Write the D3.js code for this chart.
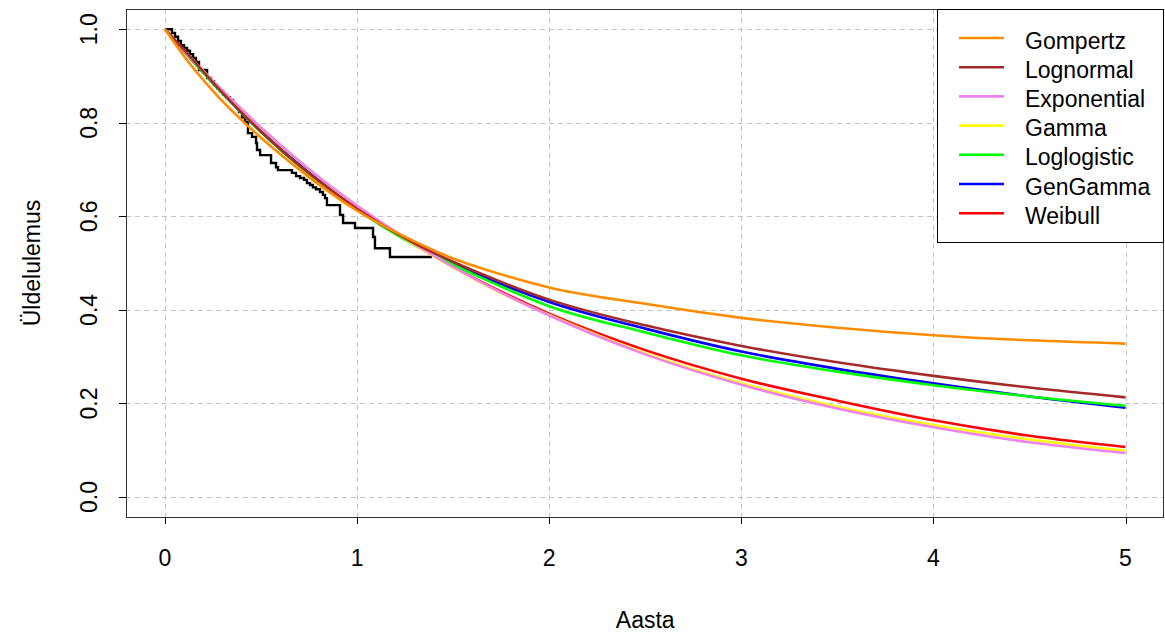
<!DOCTYPE html>
<html>
<head>
<meta charset="utf-8">
<script src="https://cdn.jsdelivr.net/npm/d3@7"></script>
<style>
  body { margin: 0; background: #fff; }
  svg text { font-family: "Liberation Sans", Arial, sans-serif; fill: #000; }
</style>
</head>
<body>
<svg id="chart"></svg>
<script>
// time grid used for the fitted survival curves (years)
const times = [0, 0.1, 0.25, 0.5, 0.75, 1, 1.25, 1.5, 1.75, 2, 2.5, 3, 3.5, 4, 4.5, 5];

// fitted survival values
const gompertz    = [1, 0.942, 0.868, 0.768, 0.684, 0.612, 0.556, 0.510, 0.476, 0.448, 0.413, 0.383, 0.362, 0.346, 0.335, 0.328];
const lognormal   = [1, 0.956, 0.886, 0.781, 0.692, 0.616, 0.553, 0.503, 0.460, 0.422, 0.367, 0.323, 0.288, 0.259, 0.234, 0.213];
const exponential = [1, 0.954, 0.889, 0.790, 0.701, 0.623, 0.554, 0.492, 0.437, 0.388, 0.305, 0.240, 0.189, 0.149, 0.117, 0.094];
const gamma       = [1, 0.955, 0.889, 0.789, 0.700, 0.621, 0.552, 0.491, 0.436, 0.389, 0.307, 0.243, 0.193, 0.154, 0.123, 0.099];
const loglogistic = [1, 0.953, 0.884, 0.780, 0.690, 0.614, 0.550, 0.497, 0.450, 0.408, 0.352, 0.303, 0.268, 0.239, 0.215, 0.195];
const gengamma    = [1, 0.954, 0.885, 0.783, 0.694, 0.618, 0.553, 0.500, 0.455, 0.417, 0.360, 0.311, 0.274, 0.243, 0.215, 0.191];
const weibull     = [1, 0.952, 0.886, 0.786, 0.698, 0.620, 0.552, 0.492, 0.439, 0.392, 0.314, 0.253, 0.206, 0.164, 0.131, 0.107];

// Kaplan-Meier steps (time of drop, survival after drop)
const kmTimes = [0, 0.036, 0.052, 0.068, 0.083, 0.099, 0.115, 0.130, 0.146, 0.161, 0.177, 0.219, 0.239, 0.255, 0.271, 0.286,
  0.302, 0.318, 0.338, 0.354, 0.370, 0.385, 0.401, 0.416, 0.432, 0.453, 0.474, 0.479, 0.495, 0.552, 0.578, 0.588,
  0.661, 0.682, 0.703, 0.724, 0.739, 0.755, 0.770, 0.786, 0.807, 0.822, 0.833, 0.843, 0.911, 0.927, 0.989, 1.083,
  1.093, 1.171, 1.390];
const kmSurv = [1, 0.992, 0.984, 0.975, 0.966, 0.960, 0.954, 0.947, 0.939, 0.930, 0.913, 0.896, 0.889, 0.881, 0.874, 0.868,
  0.861, 0.855, 0.849, 0.840, 0.832, 0.823, 0.812, 0.802, 0.778, 0.770, 0.757, 0.742, 0.731, 0.714, 0.705, 0.699,
  0.693, 0.686, 0.682, 0.678, 0.671, 0.667, 0.662, 0.658, 0.652, 0.646, 0.639, 0.624, 0.603, 0.586, 0.575, 0.556,
  0.532, 0.513, 0.513];

const models = [
  { name: "Gompertz",    colour: "#ff8c00", values: gompertz },
  { name: "Lognormal",   colour: "#a52a2a", values: lognormal },
  { name: "Exponential", colour: "#ee82ee", values: exponential },
  { name: "Gamma",       colour: "#ffff00", values: gamma },
  { name: "Loglogistic", colour: "#00ff00", values: loglogistic },
  { name: "GenGamma",    colour: "#0000ff", values: gengamma },
  { name: "Weibull",     colour: "#ff0000", values: weibull }
];

const xTicks = [0, 1, 2, 3, 4, 5];
const yTicks = [0, 0.2, 0.4, 0.6, 0.8, 1.0];

var width = 1165, height = 635;
var box = { left: 126, right: 1163, top: 9, bottom: 517 };

var svg = d3.select("#chart").attr("width", width).attr("height", height);

var x = d3.scaleLinear().domain([0, 5]).range([165, 1125.5]);
var y = d3.scaleLinear().domain([0, 1]).range([497, 29.3]);

// grid
var grid = svg.append("g")
  .attr("stroke", "#c4c4c4")
  .attr("stroke-width", 1)
  .attr("stroke-dasharray", "5,4");
grid.selectAll("line.v").data(xTicks).enter().append("line")
  .attr("x1", d => Math.round(x(d)) + 0.5).attr("x2", d => Math.round(x(d)) + 0.5)
  .attr("y1", box.top).attr("y2", box.bottom);
grid.selectAll("line.h").data(yTicks).enter().append("line")
  .attr("y1", d => Math.round(y(d)) + 0.5).attr("y2", d => Math.round(y(d)) + 0.5)
  .attr("x1", box.left).attr("x2", box.right);

var plot = svg.append("g");

// Kaplan-Meier curve first, fitted curves on top
var km = kmTimes.map((t, i) => [t, kmSurv[i]]);
plot.append("path")
  .datum(km)
  .attr("fill", "none")
  .attr("stroke", "#000")
  .attr("stroke-width", 2.4)
  .attr("d", d3.line().x(d => x(d[0])).y(d => y(d[1])).curve(d3.curveStepAfter));

var line = d3.line()
  .x(d => x(d[0]))
  .y(d => y(d[1]))
  .curve(d3.curveMonotoneX);

// drawn in reverse legend order
models.slice().reverse().forEach(function(m) {
  plot.append("path")
    .datum(times.map((t, i) => [t, m.values[i]]))
    .attr("fill", "none")
    .attr("stroke", m.colour)
    .attr("stroke-width", 2.6)
    .attr("d", line);
});

// box
svg.append("rect")
  .attr("x", box.left + 0.5).attr("y", box.top + 0.5)
  .attr("width", box.right - box.left).attr("height", box.bottom - box.top)
  .attr("fill", "none").attr("stroke", "#333").attr("stroke-width", 1);

// x axis
var xAxis = svg.append("g");
xAxis.selectAll("line").data(xTicks).enter().append("line")
  .attr("x1", d => Math.round(x(d)) + 0.5).attr("x2", d => Math.round(x(d)) + 0.5)
  .attr("y1", box.bottom).attr("y2", box.bottom + 7)
  .attr("stroke", "#000");
xAxis.selectAll("text").data(xTicks).enter().append("text")
  .attr("x", d => x(d)).attr("y", 566)
  .attr("text-anchor", "middle")
  .style("font-size", "23px")
  .text(d => d);

// y axis
var yAxis = svg.append("g");
yAxis.selectAll("line").data(yTicks).enter().append("line")
  .attr("y1", d => Math.round(y(d)) + 0.5).attr("y2", d => Math.round(y(d)) + 0.5)
  .attr("x1", box.left - 7).attr("x2", box.left)
  .attr("stroke", "#000");
yAxis.selectAll("text").data(yTicks).enter().append("text")
  .attr("transform", d => "translate(97," + y(d) + ") rotate(-90)")
  .attr("text-anchor", "middle")
  .style("font-size", "23px")
  .text(d => d.toFixed(1));

svg.append("text")
  .attr("x", x(2.5)).attr("y", 628)
  .attr("text-anchor", "middle")
  .style("font-size", "23px")
  .text("Aasta");

svg.append("text")
  .attr("transform", "translate(40," + ((box.top + box.bottom) / 2) + ") rotate(-90)")
  .attr("text-anchor", "middle")
  .style("font-size", "23px")
  .text("Üldelulemus");

// legend
var legend = svg.append("g");
legend.append("rect")
  .attr("x", 937.5).attr("y", box.top + 0.5)
  .attr("width", box.right - 937).attr("height", 233)
  .attr("fill", "#fff").attr("stroke", "#000");
var items = legend.selectAll("g.item").data(models).enter().append("g")
  .attr("transform", (d, i) => "translate(0," + (38 + i * 29.2) + ")");
items.append("line")
  .attr("x1", 959).attr("x2", 1004)
  .attr("stroke", d => d.colour).attr("stroke-width", 2.6);
items.append("text")
  .attr("x", 1025).attr("y", 10.5)
  .style("font-size", "23px")
  .text(d => d.name);
</script>
</body>
</html>
